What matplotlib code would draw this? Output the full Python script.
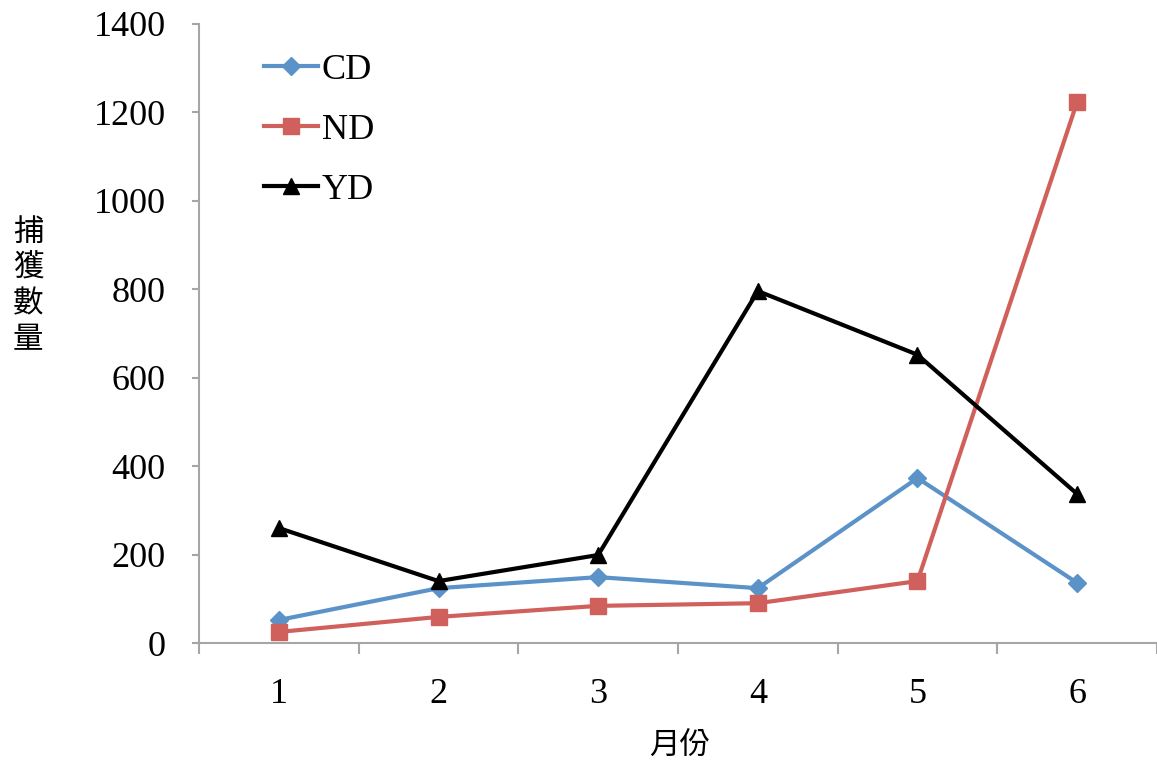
import matplotlib
matplotlib.use("Agg")
import matplotlib.pyplot as plt

# 月份 / capture counts
months = [1, 2, 3, 4, 5, 6]
cd_vals = [52, 124, 149, 124, 373, 136]
nd_vals = [25, 59, 84, 90, 140, 1224]
yd_vals = [260, 140, 199, 796, 652, 337]

serif = "Liberation Serif"
cjk = ["Noto Sans CJK TC", "DejaVu Sans"]
axis_grey = "#a6a6a6"

fig = plt.figure(figsize=(11.57, 7.62), dpi=100)
ax = fig.add_axes([199 / 1157, 1 - 643 / 762, 958 / 1157, 619 / 762])

ax.plot(months, cd_vals, color="#5b93c9", lw=3, marker="D", ms=9, label="CD")
ax.plot(months, nd_vals, color="#d0605c", lw=3, marker="s", ms=11, label="ND")
ax.plot(months, yd_vals, color="black", lw=3, marker="^", ms=12, label="YD")

ax.set_xlim(0.5, 6.5)
ax.set_ylim(0, 1400)
ax.set_yticks(range(0, 1401, 200))
ax.set_xticks(months)
ax.set_xticks([m + 0.5 for m in [0] + months], minor=True)
ax.tick_params(axis="x", which="major", length=0, pad=25)
ax.tick_params(axis="x", which="minor", length=8, width=1.5, color=axis_grey)
ax.tick_params(axis="y", length=5, width=1.5, color=axis_grey, pad=19)
for lab in ax.get_xticklabels() + ax.get_yticklabels():
    lab.set_fontfamily(serif)
    lab.set_fontsize(26)

for side in ["top", "right"]:
    ax.spines[side].set_visible(False)
for side in ["left", "bottom"]:
    ax.spines[side].set_color(axis_grey)
    ax.spines[side].set_linewidth(1.5)

leg = ax.legend(loc="upper left", bbox_to_anchor=(0.034, 1.005), frameon=False,
                prop={"family": serif, "size": 26}, handlelength=1.5,
                handletextpad=0.1, labelspacing=0.74)

fig.text(28 / 1157, 1 - 286 / 762, "捕\n獲\n數\n量", family=cjk, fontsize=22,
         ha="center", va="center", linespacing=1.2)
fig.text(680 / 1157, 1 - 746 / 762, "月份", family=cjk, fontsize=22,
         ha="center", va="center")

fig.savefig("out.png", dpi=100)
